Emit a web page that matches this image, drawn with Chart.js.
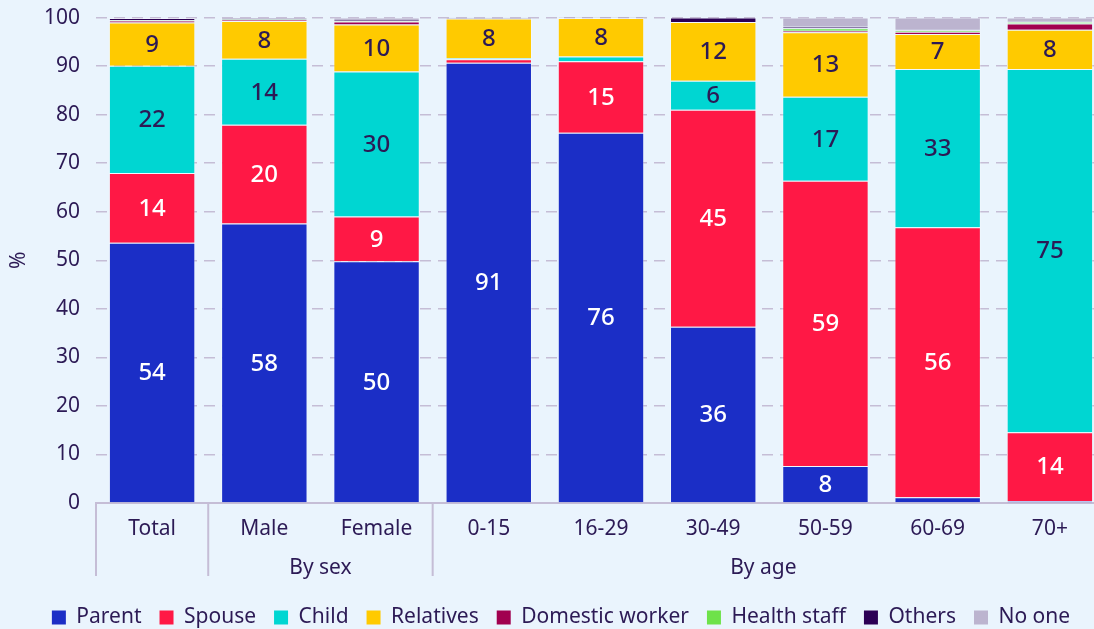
<!DOCTYPE html>
<html>
<head>
<meta charset="utf-8">
<script src="https://cdn.jsdelivr.net/npm/chart.js@4.4.1/dist/chart.umd.min.js"></script>
<style>
    html, body { margin: 0; padding: 0; background: #eaf4fd; overflow: hidden; }
    #wrap { width: 1110px; height: 651px; margin-top: -11px; }
</style>
</head>
<body>
<div id="wrap"><canvas id="myChart"></canvas></div>
<script>
const categories = ['Total', 'Male', 'Female', '0-15', '16-29', '30-49', '50-59', '60-69', '70+'];
const groupNames = ['', 'By sex', 'By age'];
const groupFirst = [0, 1, 3];
const groupLast = [0, 2, 8];

const parent = [53.6, 57.6, 49.8, 90.7, 76.3, 36.3, 7.6, 1.2, 0.4];
const spouse = [14.4, 20.3, 9.2, 0.7, 14.7, 44.7, 58.8, 55.6, 14.2];
const child = [22.1, 13.6, 29.9, 0.2, 1.0, 6.0, 17.3, 32.6, 74.8];
const relatives = [8.9, 7.8, 9.7, 8.2, 7.9, 12.1, 13.3, 7.2, 8.1];
const domesticWorker = [0.4, 0.2, 0.6, 0.0, 0.0, 0.0, 0.3, 0.5, 1.3];
const healthStaff = [0.1, 0.1, 0.1, 0.0, 0.0, 0.0, 0.5, 0.3, 0.3];
const others = [0.4, 0.1, 0.2, 0.1, 0.1, 0.9, 0.3, 0.2, 0.1];
const noOne = [0.1, 0.3, 0.5, 0.1, 0.0, 0.0, 1.9, 2.4, 0.8];

const textColor = '#2c1a55';
const gridColor = '#c5bdd6';
const fontFamily = '"Noto Sans", "Open Sans", sans-serif';

function makeSet(label, data, color, labelColor) {
    return {
        label: label,
        data: data,
        backgroundColor: color,
        borderColor: 'rgba(255,255,255,0.3)',
        borderWidth: 1,
        labelColor: labelColor
    };
}

// numbers inside the bars
const barLabels = {
    id: 'barLabels',
    afterDatasetsDraw(chart) {
        const ctx = chart.ctx;
        ctx.save();
        ctx.font = '500 24px ' + fontFamily;
        ctx.textAlign = 'center';
        ctx.textBaseline = 'middle';
        chart.data.datasets.forEach((ds, d) => {
            if (!ds.labelColor) return;
            chart.getDatasetMeta(d).data.forEach((bar, i) => {
                const v = ds.data[i];
                if (v < 3) return;
                ctx.fillStyle = ds.labelColor;
                ctx.fillText(Math.round(v), bar.x, (bar.y + bar.base) / 2 + 1);
            });
        });
        ctx.restore();
    }
};

// group separators and group names under the x axis
const groupAxis = {
    id: 'groupAxis',
    afterDraw(chart) {
        const x = chart.scales.x;
        const ctx = chart.ctx;
        const half = (x.getPixelForValue(1) - x.getPixelForValue(0)) / 2;
        const bottom = chart.chartArea.bottom;
        ctx.save();
        ctx.strokeStyle = gridColor;
        ctx.lineWidth = 2;
        ctx.font = '21px ' + fontFamily;
        ctx.fillStyle = textColor;
        ctx.textAlign = 'center';
        ctx.textBaseline = 'middle';
        groupNames.forEach((name, g) => {
            const left = x.getPixelForValue(groupFirst[g]) - half;
            const right = Math.min(x.getPixelForValue(groupLast[g]) + half, window.innerWidth);
            ctx.beginPath();
            ctx.moveTo(left, bottom);
            ctx.lineTo(left, bottom + 73);
            ctx.stroke();
            if (name) ctx.fillText(name, (left + right) / 2, bottom + 65);
        });
        ctx.restore();
    }
};

const ctx = document.getElementById('myChart').getContext('2d');
const myChart = new Chart(ctx, {
    type: 'bar',
    data: {
        labels: categories,
        datasets: [
            makeSet('Parent', parent, '#1b2ec6', '#ffffff'),
            makeSet('Spouse', spouse, '#ff1845', '#ffffff'),
            makeSet('Child', child, '#00d6d2', textColor),
            makeSet('Relatives', relatives, '#ffca00', textColor),
            makeSet('Domestic worker', domesticWorker, '#a1004f', null),
            makeSet('Health staff', healthStaff, '#6ee24a', null),
            makeSet('Others', others, '#2c0055', null),
            makeSet('No one', noOne, '#bcb4cf', null)
        ]
    },
    options: {
        responsive: true,
        maintainAspectRatio: false,
        animation: false,
        categoryPercentage: 0.77,
        barPercentage: 1,
        layout: {
            padding: { left: 16, right: 4, top: 7, bottom: 2 }
        },
        plugins: {
            tooltip: { enabled: false },
            legend: {
                position: 'bottom',
                labels: {
                    boxWidth: 14,
                    boxHeight: 14,
                    padding: 18,
                    color: textColor,
                    font: { family: fontFamily, size: 21 },
                    generateLabels(chart) {
                        const items = Chart.defaults.plugins.legend.labels.generateLabels(chart);
                        items.forEach(it => { it.lineWidth = 0; });
                        return items;
                    }
                }
            }
        },
        scales: {
            x: {
                stacked: true,
                grid: { display: false, drawTicks: false },
                border: { display: true, color: gridColor, width: 2 },
                ticks: {
                    color: textColor,
                    padding: 13,
                    font: { family: fontFamily, size: 21 }
                },
                afterFit(scale) { scale.height = 86; }
            },
            y: {
                stacked: true,
                min: 0,
                max: 100,
                grid: { color: gridColor, lineWidth: 1.5, drawTicks: false },
                border: { display: false, dash: [11, 7] },
                ticks: {
                    stepSize: 10,
                    color: textColor,
                    padding: 16,
                    font: { family: fontFamily, size: 21 }
                },
                title: {
                    display: true,
                    text: '%',
                    color: textColor,
                    padding: { top: -10, bottom: 0 },
                    font: { family: fontFamily, size: 21 }
                },
                afterFit(scale) { scale.width = 80; }
            }
        }
    },
    plugins: [barLabels, groupAxis]
});
</script>
</body>
</html>
